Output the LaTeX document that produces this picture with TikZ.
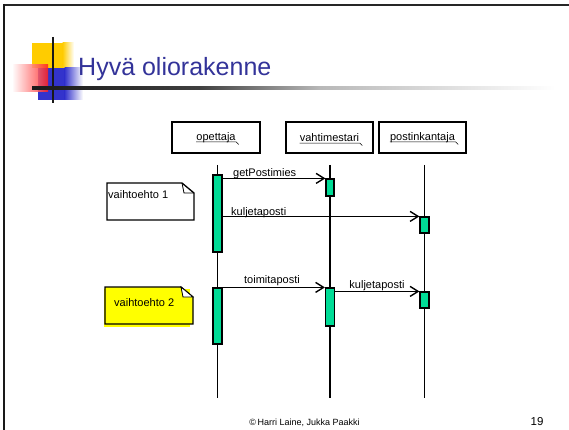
\documentclass[tikz,border=0pt]{standalone}
\usepackage{fontspec}
\setmainfont{Liberation Sans}
\usetikzlibrary{arrows.meta}
\definecolor{titleblue}{RGB}{51,51,153}
\definecolor{actgreen}{RGB}{0,220,150}
\definecolor{decoyellow}{RGB}{255,204,0}
\definecolor{decoblue}{RGB}{51,51,204}
\definecolor{decored}{RGB}{255,30,30}
\definecolor{noteyellow}{RGB}{255,255,0}
\tikzset{
  lifebox/.style={draw, line width=1.4pt, minimum width=88pt, minimum height=31pt, inner sep=0pt},
  boxlabel/.style={inner sep=0pt, font=\fontsize{11}{13}\selectfont},
  uline/.style={line width=0.5pt},
  lifeline/.style={line width=1.3pt},
  act/.style={draw, line width=1.2pt, fill=actgreen, minimum width=9pt, inner sep=0pt},
  msg/.style={line width=1.4pt, -{Straight Barb[length=8pt,width=10pt,line width=1.4pt]}},
  msglabel/.style={inner sep=0pt, font=\fontsize{11}{13}\selectfont},
  note/.style={line width=1.3pt},
}
\begin{document}
\begin{tikzpicture}[x=1pt,y=-1pt]
\useasboundingbox (0,0) rectangle (569,430);
\fill[white] (0,0) rectangle (569,430);

% slide frame
\draw[line width=2pt, black!85] (3,5) -- (569,5);
\draw[line width=2.6pt, black!90] (4,4) -- (4,430);

% title decoration
\fill[decoyellow] (32,43) rectangle (63,68);
\shade[left color=decoyellow, right color=white] (62.5,43) rectangle (74,68);
\fill[decoblue] (38,68) rectangle (65,100);
\shade[left color=decoblue, right color=white] (64.5,68) rectangle (83,100);
\shade[left color=white, right color=decored, opacity=0.85] (12,65) rectangle (48,92);
\draw[line width=2.6pt, black!90] (53,37) -- (53,103);
\shade[left color=black!90, right color=black!75] (32,86.5) rectangle (200,89.5);
\shade[left color=black!75, right color=black!28] (199.5,86.5) rectangle (320,89.5);
\shade[left color=black!28, right color=white] (319.5,86.5) rectangle (555,89.5);

\node[anchor=base west, inner sep=0pt, text=titleblue, font=\fontsize{25}{30}\selectfont] (title) at (78,76) {Hyvä oliorakenne};

% objects
\node[lifebox] (op) at (216,137.5) {};
\node[lifebox, minimum width=87pt] (va) at (329.5,137.5) {};
\node[lifebox, minimum width=87pt] (po) at (422.5,137.5) {};
\node[boxlabel] (opl) at (op) {opettaja};
\node[boxlabel] (val) at (va) {vahtimestari};
\node[boxlabel] (pol) at (po) {postinkantaja};
\foreach \l in {opl,val,pol}{
  \draw[uline] ([yshift=-1.6pt]\l.base west) -- ([yshift=-1.6pt,xshift=0.5pt]\l.base east) -- ++(2.5,2.5);
}

% lifelines
\coordinate (optop) at (217.5,165);
\coordinate (opbot) at (217.5,398);
\coordinate (vatop) at (330,165);
\coordinate (vabot) at (330,398);
\coordinate (potop) at (424.5,165);
\coordinate (pobot) at (424.5,398);
\draw[lifeline] (optop) -- (opbot);
\draw[lifeline] (vatop) -- (vabot);
\draw[lifeline] (potop) -- (pobot);

% activations
\node[act, minimum height=77pt] (a1) at (217.5,213.5) {};
\node[act, minimum height=17pt, minimum width=8pt] (b1) at (330,187.5) {};
\node[act, minimum height=16pt] (c1) at (424.5,225) {};
\node[act, minimum height=56pt] (a2) at (217.5,316) {};
\node[act, minimum height=38pt] (b2) at (330,307) {};
\node[act, minimum height=16pt] (c2) at (424.5,300) {};

% messages
\draw[msg] (a1.east |- b1.north) -- (b1.north west);
\node[msglabel, anchor=base west] (m1) at (233,177) {getPostimies};
\draw[msg] (a1.east |- c1.north) -- (c1.north west);
\node[msglabel, anchor=base west] (m2) at (231,215) {kuljetaposti};
\draw[msg] (a2.north east) -- (b2.north west);
\node[msglabel, anchor=base] (m3) at (272,283) {toimitaposti};
\draw[msg] (b2.east |- c2.north) -- (c2.north west);
\node[msglabel, anchor=base] (m4) at (377,288.5) {kuljetaposti};

% notes
\draw[note] (107,183) -- (182,183) -- (194,193) -- (194,220) -- (107,220) -- cycle;
\draw[line width=0.8pt] (182,183) -- (184,193) -- (194,193);
\node[msglabel, anchor=base west] (n1) at (108,198) {vaihtoehto 1};

\fill[noteyellow] (104,289) rectangle (190,327);
\filldraw[note, fill=noteyellow] (105,287) -- (181,287) -- (193,297) -- (193,324) -- (105,324) -- cycle;
\filldraw[line width=0.8pt, fill=white] (181,287) -- (183,297) -- (193,297) -- cycle;
\node[msglabel, anchor=base west] (n2) at (114,306) {vaihtoehto 2};

% footer
\node[anchor=base, inner sep=0pt, font=\fontsize{9}{11}\selectfont] (foot) at (304.5,425) {©\,Harri Laine, Jukka Paakki};
\node[anchor=base, inner sep=0pt, font=\fontsize{11.5}{13}\selectfont] (page) at (537,425) {19};
\end{tikzpicture}
\end{document}
